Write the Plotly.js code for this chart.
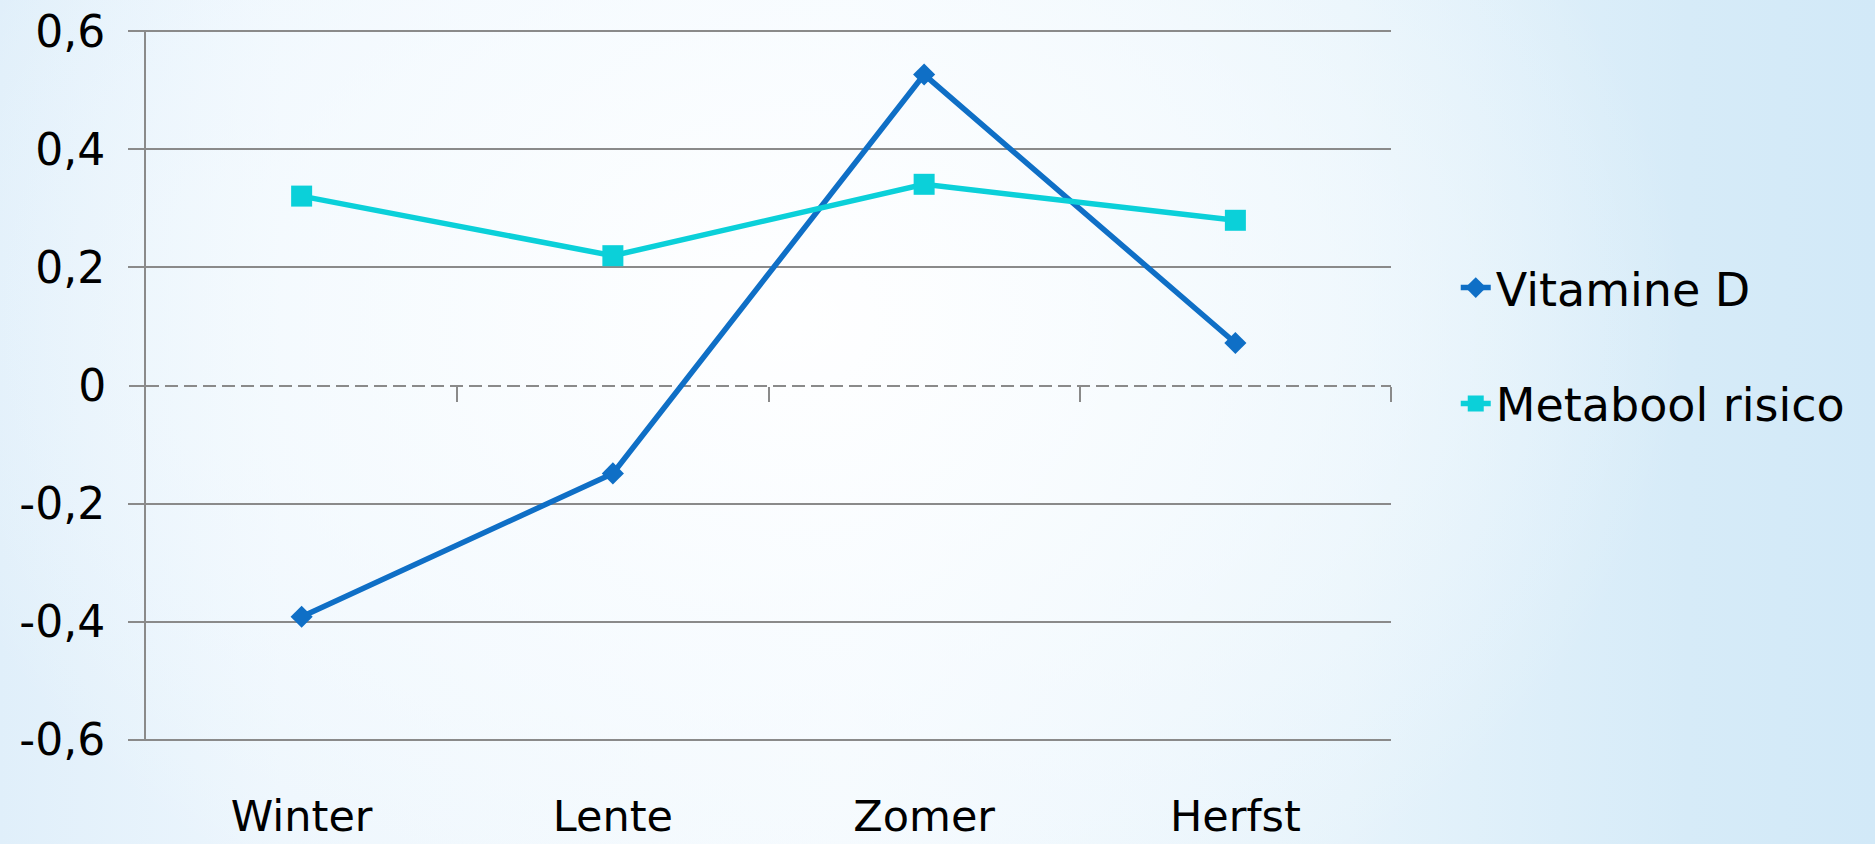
<!DOCTYPE html>
<html>
<head>
<meta charset="utf-8">
<script src="https://cdn.plot.ly/plotly-3.0.1.min.js"></script>
<style>
  html, body { margin: 0; padding: 0; }
  body {
    width: 1875px; height: 844px; overflow: hidden;
    background:
      radial-gradient(ellipse 900px 700px at 42% 38%, rgba(255,255,255,0.95) 0%, rgba(250,253,255,0.7) 45%, rgba(255,255,255,0) 100%),
      linear-gradient(to right, #E0EFFA 0%, #EDF6FD 15%, #F3F9FE 45%, #E6F3FB 72%, #D6EBF8 90%, #D2E9F8 100%);
  }
  #chart { width: 1875px; height: 844px; }
</style>
</head>
<body>
<div id="chart"></div>
<script>
// ---- data ----
const categories = ['Winter', 'Lente', 'Zomer', 'Herfst'];
const vitamineD = [-0.392, -0.149, 0.527, 0.072];
const metaboolRisico = [0.321, 0.220, 0.341, 0.280];
const seriesNames = ['Vitamine D', 'Metabool risico'];
const yTickVals = [-0.6, -0.4, -0.2, 0.2, 0.4, 0.6];
const yTickLabels = ['-0,6', '-0,4', '-0,2', '0,2', '0,4', '0,6'];
const zeroTickVals = [0];
const zeroTickLabels = ['0'];
const yMin = -0.6, yMax = 0.6;

// category boundaries (between categories) for the ticks on the zero axis
const boundaryVals = categories.map((c, i) => i + 0.5);

const gray = '#8A8A8A';
const fontFamily = '"DejaVu Sans", sans-serif';
const yPad = 0.0025;

const traces = [
  {
    type: 'scatter', mode: 'lines+markers',
    name: seriesNames[0], x: categories, y: vitamineD,
    xaxis: 'x', yaxis: 'y', legendgroup: 'a',
    line: { color: '#0F6FC6', width: 5.5 },
    marker: { symbol: 'diamond', size: 17, color: '#0F6FC6' }
  },
  {
    type: 'scatter', mode: 'lines+markers',
    name: seriesNames[1], x: categories, y: metaboolRisico,
    xaxis: 'x2', yaxis: 'y2', legendgroup: 'b',
    line: { color: '#0BD0D9', width: 5.5 },
    marker: { symbol: 'square', size: 21, color: '#0BD0D9' }
  }
];

const layout = {
  width: 1875, height: 844,
  margin: { l: 146, r: 484, t: 30, b: 103 },
  paper_bgcolor: 'rgba(0,0,0,0)',
  plot_bgcolor: 'rgba(0,0,0,0)',
  font: { family: fontFamily, color: '#000000', size: 44 },
  showlegend: true,
  legend: {
    x: 1.052, xanchor: 'left', y: 0.556, yanchor: 'middle',
    bgcolor: 'rgba(0,0,0,0)', font: { size: 46, family: fontFamily },
    traceorder: 'grouped', tracegroupgap: 53
  },
  xaxis: {
    type: 'category', range: [-0.5, categories.length - 0.5],
    showgrid: false, zeroline: false, showline: false, ticks: '',
    tickfont: { size: 43, family: fontFamily }, ticklabelstandoff: 46
  },
  xaxis2: {
    type: 'category', overlaying: 'x', anchor: 'free', position: 0.5,
    range: [-0.5, categories.length - 0.5],
    showgrid: false, zeroline: false, showline: false,
    ticks: 'outside', tickvals: boundaryVals, ticklen: 15, tickwidth: 2, tickcolor: gray,
    showticklabels: false
  },
  yaxis: {
    range: [yMin - yPad, yMax + yPad], tickmode: 'array', tickvals: yTickVals, ticktext: yTickLabels,
    showgrid: true, gridcolor: gray, gridwidth: 2,
    zeroline: false, showline: true, linecolor: gray, linewidth: 2,
    ticks: 'outside', ticklen: 16, tickwidth: 2, tickcolor: gray,
    tickfont: { size: 44, family: fontFamily }, ticklabelstandoff: 14
  },
  yaxis2: {
    overlaying: 'y', anchor: 'x', side: 'left',
    range: [yMin - yPad, yMax + yPad], tickmode: 'array', tickvals: zeroTickVals, ticktext: zeroTickLabels,
    showgrid: true, gridcolor: gray, gridwidth: 2, griddash: '13px,6px',
    zeroline: false, showline: false,
    ticks: 'outside', ticklen: 16, tickwidth: 2, tickcolor: gray,
    tickfont: { size: 44, family: fontFamily }, ticklabelstandoff: 14
  }
};

Plotly.newPlot('chart', traces, layout, { displayModeBar: false, staticPlot: true });
</script>
</body>
</html>
